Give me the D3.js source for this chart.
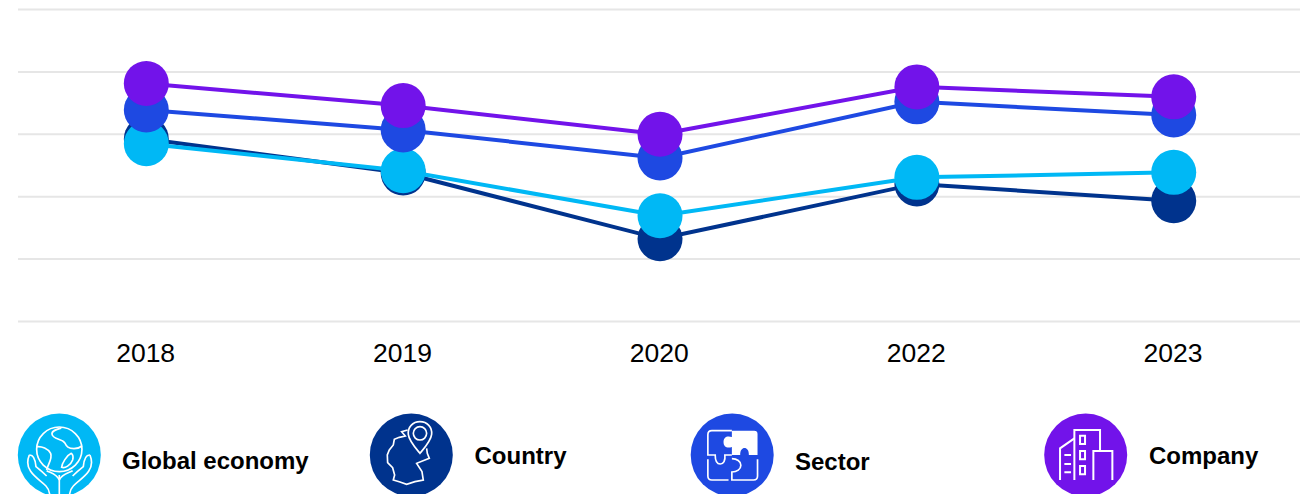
<!DOCTYPE html>
<html>
<head>
<meta charset="utf-8">
<script src="https://cdn.jsdelivr.net/npm/d3@7"></script>
<style>
  html, body { margin: 0; padding: 0; background: #fff; overflow: hidden; }
  svg { display: block; }
  text { font-family: "Liberation Sans", Arial, sans-serif; fill: #000; }
</style>
</head>
<body>
<div id="chart"></div>
<script>
var w = 1300;
var h = 494;

// values, the y axis has no labels
var years = ["2018", "2019", "2020", "2022", "2023"];
var seriesNames = ["Country", "Global economy", "Sector", "Company"];
var seriesColors = ["#00338D", "#00B8F5", "#1E49E2", "#7213EA"];
var countryValues = [58.5, 47.6, 26.5, 44.1, 38.7];
var globalValues = [57.0, 48.3, 33.9, 46.2, 47.8];
var sectorValues = [67.8, 61.4, 52.4, 70.4, 66.2];
var companyValues = [76.3, 69.2, 60.0, 75.2, 72.0];
var allValues = [countryValues, globalValues, sectorValues, companyValues];
var gridTicks = [0, 20, 40, 60, 80, 100];

var svg = d3.select("#chart").append("svg")
            .attr("width", w)
            .attr("height", h);

var x = d3.scaleBand().domain(years).range([17.9, 1302.15]);
var y = d3.scaleLinear().domain([0, 100]).range([321.5, 9.5]);

// Gridlines
var grid = svg.append("g")
              .attr("transform", "translate(18,-0.5)")
              .call(d3.axisLeft(y).tickValues(gridTicks).tickSize(-1285).tickFormat(""));
grid.select(".domain").remove();
grid.selectAll("line").attr("stroke", "#e6e6e6").attr("stroke-width", 2);

// Year labels
var xAxis = svg.append("g")
               .attr("transform", "translate(-0.7,321.5)")
               .call(d3.axisBottom(x).tickSize(0).tickPadding(0));
xAxis.select(".domain").remove();
xAxis.selectAll("text")
     .attr("font-size", 26.5)
     .attr("y", 40)
     .attr("dy", 0)
     .style("font-family", '"Liberation Sans", Arial, sans-serif');

// Lines and dots, one group per series
var line = d3.line()
             .x(function(d, i) { return x(years[i]) + x.bandwidth() / 2; })
             .y(function(d) { return y(d); });

allValues.forEach(function(values, s) {
  var g = svg.append("g").attr("class", "series");
  g.append("path")
   .attr("d", line(values))
   .attr("fill", "none")
   .attr("stroke", seriesColors[s])
   .attr("stroke-width", 4);
  g.selectAll("circle")
   .data(values)
   .enter()
   .append("circle")
   .attr("cx", function(d, i) { return x(years[i]) + x.bandwidth() / 2; })
   .attr("cy", function(d) { return y(d); })
   .attr("r", 22.5)
   .attr("fill", seriesColors[s]);
});

// Legend with line icons, icon paths are in 3x units around a local origin
var iconGlobal = [
  "M246,148A68,67 0 1 1 110,148A68,67 0 1 1 246,148Z",
  "M184,84C170,88 155,92 156,102C158,118 186,116 194,128C200,140 205,146 222,146C232,146 240,143 246,138",
  "M110,140C125,138 145,146 152,160C158,176 145,190 140,210",
  "M214,160C200,166 186,190 185,202C195,206 212,196 218,180C220,172 220,164 214,160Z",
  "M88,165C82,180 82,200 92,214C104,232 125,245 138,258C146,266 149,276 150,290",
  "M88,165C100,164 106,176 108,200C118,208 130,218 140,228",
  "M270,165C276,180 276,200 266,214C254,232 232,245 220,258C212,266 209,276 208,290",
  "M270,165C258,164 252,176 250,200C240,208 228,218 218,228",
  "M178,225V290",
  "M140,212C155,220 170,222 178,240M218,212C203,220 186,222 178,240"
];
var iconCountry = [
  "M180,65C158,65 143,82 145,103C147,122 165,142 180,160C195,142 213,122 215,103C217,82 202,65 180,65Z",
  "M200,100A20,20 0 1 1 160,100A20,20 0 1 1 200,100Z",
  "M143,90L125,95L136,108L118,112L103,118L100,135L88,150L82,165L83,188L98,203L104,225L100,240L120,246L140,253L165,245L190,240L186,215L170,190L208,175L202,160L200,145"
];
var iconSectorLines = [
  "M155,92H95Q83,92 83,104V165H105C105,182 110,192 120,192C130,192 136,182 134,165H155",
  "M83,178V228Q83,240 95,240H145",
  "M155,176C170,176 182,184 182,196C182,208 170,216 155,216V240H220Q232,240 232,228V178"
];
var iconSectorFill = "M155,92H222Q232,92 232,102V165H206C206,150 200,144 193,144C186,144 180,150 180,165H155V141C140,146 130,140 130,126C130,112 140,106 155,111Z";
var iconCompany = [
  "M90,240V145L133,115",
  "M133,240V90H210V150",
  "M190,240V153H247V240",
  "M150,107H165V132H150ZM150,153H165V178H150ZM150,198H165V223H150Z",
  "M103,165H123M103,192H123M103,217H123"
];

var legendNames = ["Global economy", "Country", "Sector", "Company"];
var legendColors = ["#00B8F5", "#00338D", "#1E49E2", "#7213EA"];
var legendIcons = [iconGlobal, iconCountry, iconSectorLines, iconCompany];
var legendX = [59.3, 411.3, 732.2, 1085.7];
var iconX = [178, 154, 156, 167];
var labelX = [122, 474.5, 795, 1149];
var labelY = [469, 463.5, 470, 463.5];

legendNames.forEach(function(name, i) {
  svg.append("circle")
     .attr("cx", legendX[i])
     .attr("cy", 455)
     .attr("r", 41.5)
     .attr("fill", legendColors[i]);

  var icon = svg.append("g")
                .attr("transform", "translate(" + legendX[i] + ",455) scale(0.3333) translate(" + (-iconX[i]) + ",-165)");
  icon.selectAll("path")
      .data(legendIcons[i])
      .enter()
      .append("path")
      .attr("d", function(d) { return d; })
      .attr("fill", "none")
      .attr("stroke", "#fff")
      .attr("stroke-width", i == 3 ? 6 : 5);
  if (name == "Sector") {
    icon.append("path").attr("d", iconSectorFill).attr("fill", "#fff");
  }

  svg.append("text")
     .attr("x", labelX[i])
     .attr("y", labelY[i])
     .attr("font-size", 24)
     .attr("font-weight", "bold")
     .text(name);
});
</script>
</body>
</html>
